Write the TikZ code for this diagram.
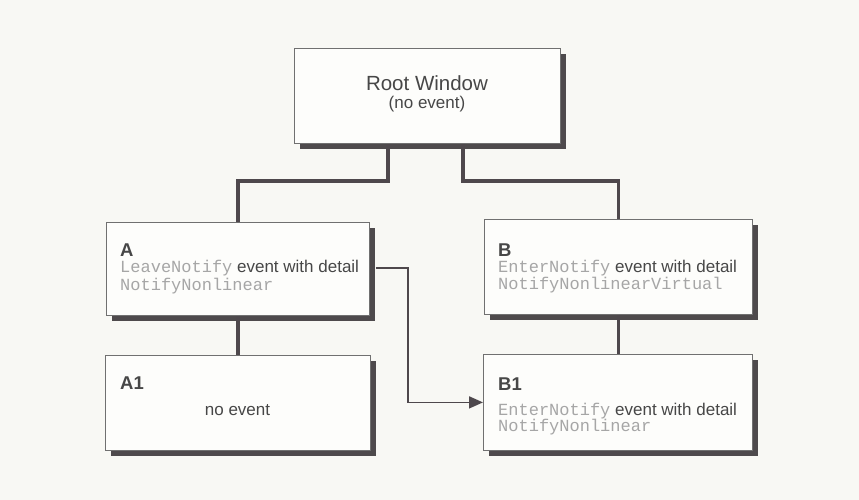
\documentclass[tikz,border=0pt]{standalone}
\usepackage{fontspec}
\setmainfont{Liberation Sans}
\setmonofont{Liberation Mono}
\usetikzlibrary{arrows.meta,shadows}
\definecolor{bgc}{HTML}{F8F8F4}
\definecolor{boxfill}{HTML}{FDFDFB}
\definecolor{boxline}{HTML}{707070}
\definecolor{shade}{HTML}{4E4A4C}
\definecolor{txt}{HTML}{474747}
\definecolor{codec}{HTML}{A6A6A6}
\definecolor{conn}{HTML}{4E484C}
\newcommand{\cd}[1]{{\ttfamily\color{codec}#1}}
\tikzset{
  winbox/.style={draw=boxline, line width=0.8pt, fill=boxfill, inner sep=0pt, anchor=north west,
    drop shadow={shadow xshift=6pt, shadow yshift=-6pt, fill=shade, opacity=1}},
  ttl/.style={anchor=base west, inner sep=0pt, text=txt, font=\fontsize{18.5}{21}\selectfont\bfseries},
  body/.style={anchor=base west, inner sep=0pt, text=txt, font=\fontsize{17}{20}\selectfont},
  conn/.style={draw=conn, line width=3.6pt},
  arr/.style={draw=conn, line width=1.7pt, -{Triangle[length=14pt,width=12pt]}}
}
\begin{document}
\begin{tikzpicture}[x=1pt,y=-1pt]
\fill[bgc] (0,0) rectangle (859,500);
\useasboundingbox (0,0) rectangle (859,500);

\node[winbox, minimum width=266pt, minimum height=95pt] (root) at (294,48) {};
\node[winbox, minimum width=263pt, minimum height=93pt] (A) at (106,222) {};
\node[winbox, minimum width=268pt, minimum height=95pt] (B) at (484,219) {};
\node[winbox, minimum width=265pt, minimum height=95pt] (A1) at (105,355) {};
\node[winbox, minimum width=269pt, minimum height=96pt] (B1) at (483,354) {};

% root texts
\node[anchor=base, inner sep=0pt, text=txt, font=\fontsize{20.5}{24}\selectfont] (rt) at (427,91) {Root Window};
\node[anchor=base, inner sep=0pt, text=txt, font=\fontsize{17}{20}\selectfont] (rs) at (427,109) {(no event)};

% A texts
\node[ttl] (At) at (120,256) {A};
\node[body] (A1l) at (120,272) {\cd{LeaveNotify} event with detail};
\node[body] (A2l) at (120,290) {\cd{NotifyNonlinear}};

% B texts
\node[ttl] (Bt) at (498,256) {B};
\node[body] (B1l) at (498,272) {\cd{EnterNotify} event with detail};
\node[body] (B2l) at (498,289) {\cd{NotifyNonlinearVirtual}};

% A1 texts
\node[ttl] (A1t) at (120,389) {A1};
\node[anchor=base, inner sep=0pt, text=txt, font=\fontsize{17}{20}\selectfont] (A1n) at (237.5,415) {no event};

% B1 texts
\node[ttl] (B1t) at (498,390) {B1};
\node[body] (B1a) at (498,415) {\cd{EnterNotify} event with detail};
\node[body] (B1b) at (498,431) {\cd{NotifyNonlinear}};

% connectors
\coordinate (jL) at (388,181);
\coordinate (jR) at (463,181);
\coordinate (k) at (408,268);
\draw[conn] (root.south -| jL) -- (jL) -- (jL -| A.north) -- (A.north);
\draw[conn] (root.south -| jR) -- (jR) -- (jR -| B.north) -- (B.north);
\draw[conn] (A.south) -- (A1.north);
\draw[conn] (B.south) -- (B.south |- B1.north);
\draw[arr] ([xshift=6pt]A.east |- k) -- (k) -- (k |- B1.west) -- (B1.west);
\end{tikzpicture}
\end{document}
